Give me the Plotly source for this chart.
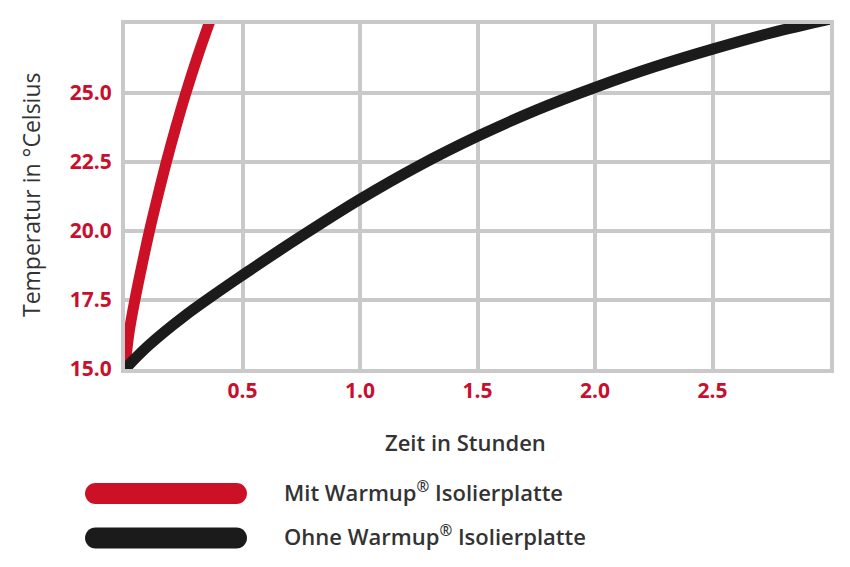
import plotly.graph_objects as go

# ---- data ----
series_names = ["Mit Warmup<sup>®</sup> Isolierplatte", "Ohne Warmup<sup>®</sup> Isolierplatte"]
series_colors = ["#cc1025", "#1b1b1b"]

mit_time = [0.0, 0.016, 0.042, 0.072, 0.104, 0.139, 0.176, 0.216, 0.259, 0.306, 0.357, 0.40]
mit_temp = [15.0, 16.25, 17.5, 18.75, 20.0, 21.25, 22.5, 23.75, 25.0, 26.25, 27.5, 28.5]

ohne_time = [0.0, 0.1, 0.25, 0.5, 0.75, 1.0, 1.25, 1.5, 1.75, 2.0, 2.25, 2.5, 2.75, 3.0]
ohne_temp = [15.0, 15.85, 16.9, 18.4, 19.81, 21.15, 22.36, 23.43, 24.38, 25.2, 25.94, 26.59, 27.18, 27.68]

x_tickvals = [0.5, 1.0, 1.5, 2.0, 2.5]
x_ticktext = ["0.5", "1.0", "1.5", "2.0", "2.5"]
y_tickvals = [15.0, 17.5, 20.0, 22.5, 25.0]
y_ticktext = ["15.0", "17.5", "20.0", "22.5", "25.0"]

x_title = "Zeit in Stunden"
y_title = "Temperatur in °Celsius"

# ---- styling ----
GRID = "#c9c9c9"
TICK_RED = "#c8102e"
TEXT = "#333333"
FONT = "Open Sans"

# page body has an 8px margin: the figure is offset by (8, 8) on the page
OFF = 8
W, H = 850 - OFF, 567 - OFF
L, R, T, B = 117, 20, 14, 198
PW, PH = W - L - R, H - T - B
PLOT_LEFT_PAGE = OFF + L          # 125
PLOT_BOTTOM_PAGE = OFF + H - B    # 369


def px_to_paper_x(px):
    return (px - PLOT_LEFT_PAGE) / PW


def py_to_paper_y(py):
    return (PLOT_BOTTOM_PAGE - py) / PH


fig = go.Figure()
fig.add_trace(go.Scatter(x=mit_time, y=mit_temp, mode="lines",
                         line=dict(color=series_colors[0], width=11, shape="spline", smoothing=1.0),
                         name=series_names[0], showlegend=False, hoverinfo="skip"))
fig.add_trace(go.Scatter(x=ohne_time, y=ohne_temp, mode="lines",
                         line=dict(color=series_colors[1], width=11, shape="spline", smoothing=1.0),
                         name=series_names[1], showlegend=False, hoverinfo="skip"))

# legend drawn manually: long rounded swatches + text
legend_centers_py = [493.5, 538]
sw_x0, sw_x1, sw_h = 85, 247, 21
shapes = []
annotations = []
for name, color, cy in zip(series_names, series_colors, legend_centers_py):
    r = sw_h / 2
    k = 0.5523 * r
    x0 = sw_x0 - PLOT_LEFT_PAGE
    x1 = sw_x1 - PLOT_LEFT_PAGE
    yc = PLOT_BOTTOM_PAGE - cy
    yt, yb = yc + r, yc - r
    path = (f"M{x0 + r},{yt} L{x1 - r},{yt} "
            f"C{x1 - r + k},{yt} {x1},{yc + k} {x1},{yc} "
            f"C{x1},{yc - k} {x1 - r + k},{yb} {x1 - r},{yb} "
            f"L{x0 + r},{yb} "
            f"C{x0 + r - k},{yb} {x0},{yc - k} {x0},{yc} "
            f"C{x0},{yc + k} {x0 + r - k},{yt} {x0 + r},{yt} Z")
    shapes.append(dict(type="path", xref="paper", yref="paper",
                       xsizemode="pixel", ysizemode="pixel", xanchor=0, yanchor=0,
                       path=path, fillcolor=color, line=dict(width=0), layer="above"))
    annotations.append(dict(text=name, xref="paper", yref="paper",
                            x=px_to_paper_x(282), y=py_to_paper_y(cy - 1.5),
                            xanchor="left", yanchor="middle", showarrow=False,
                            font=dict(family=FONT, size=22, color=TEXT, weight=600)))

# axis titles as annotations for exact placement
annotations.append(dict(text=x_title, xref="paper", yref="paper",
                        x=px_to_paper_x(465), y=py_to_paper_y(442),
                        xanchor="center", yanchor="middle", showarrow=False,
                        font=dict(family=FONT, size=22, color=TEXT, weight=600)))
annotations.append(dict(text=y_title, xref="paper", yref="paper",
                        x=px_to_paper_x(31), y=py_to_paper_y(194),
                        xanchor="center", yanchor="middle", showarrow=False, textangle=-90,
                        font=dict(family=FONT, size=23, color=TEXT, weight=500)))

fig.update_layout(
    width=W, height=H,
    margin=dict(l=L, r=R, t=T, b=B, pad=0),
    paper_bgcolor="white", plot_bgcolor="white",
    shapes=shapes, annotations=annotations,
    showlegend=False,
)
fig.update_xaxes(range=[0, 3.0], tickvals=x_tickvals, ticktext=x_ticktext,
                 showgrid=True, gridcolor=GRID, gridwidth=4, zeroline=False,
                 showline=True, linecolor=GRID, linewidth=4, mirror=True,
                 ticks="", ticklabelstandoff=0,
                 tickfont=dict(family=FONT, size=21, color=TICK_RED, weight=700))
fig.update_yaxes(range=[15, 27.5], tickvals=y_tickvals, ticktext=y_ticktext,
                 showgrid=True, gridcolor=GRID, gridwidth=4, zeroline=False,
                 showline=True, linecolor=GRID, linewidth=4, mirror=True,
                 ticks="", ticklabelstandoff=5,
                 tickfont=dict(family=FONT, size=21, color=TICK_RED, weight=700))

fig.write_html("out.html")
